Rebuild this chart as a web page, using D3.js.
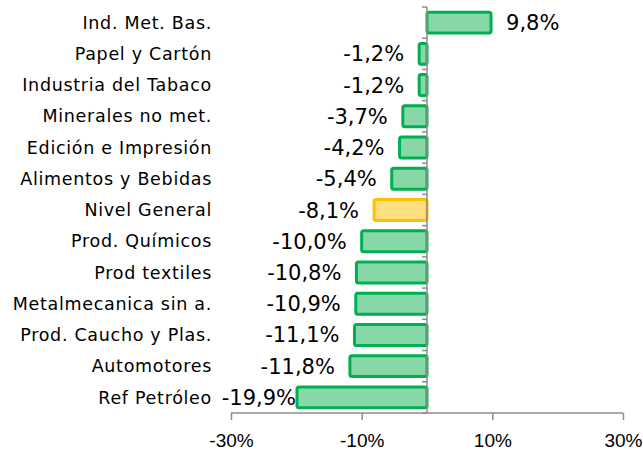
<!DOCTYPE html>
<html>
<head>
<meta charset="utf-8">
<script src="https://cdn.jsdelivr.net/npm/d3@7"></script>
<style>
  body { margin: 0; background: #fff; }
  svg { display: block; }
</style>
</head>
<body>
<div id="chart"></div>
<script>
// categories, top to bottom
const categories = [
    "Ind. Met. Bas.", "Papel y Cartón", "Industria del Tabaco", "Minerales no met.",
    "Edición e Impresión", "Alimentos y Bebidas", "Nivel General", "Prod. Químicos",
    "Prod textiles", "Metalmecanica sin a.", "Prod. Caucho y Plas.", "Automotores", "Ref Petróleo"
];
const values = [9.8, -1.2, -1.2, -3.7, -4.2, -5.4, -8.1, -10.0, -10.8, -10.9, -11.1, -11.8, -19.9];
const highlight = "Nivel General";
const xTicks = [-30, -10, 10, 30];

const w = 643, h = 452;
const margin = {top: 7, right: 20, bottom: 39, left: 231};

const svg = d3.select("#chart").append("svg")
    .attr("width", w)
    .attr("height", h)
    .style("font-family", "'DejaVu Sans', sans-serif");

const x = d3.scaleLinear()
    .domain([-30, 30])
    .range([margin.left, 623]);

const y = d3.scaleBand()
    .domain(categories)
    .range([margin.top, h - margin.bottom])
    .paddingInner(0.33)
    .paddingOuter(0.165);

// x axis
const xAxis = svg.append("g")
    .attr("transform", `translate(0,${h - margin.bottom})`)
    .call(d3.axisBottom(x).tickValues(xTicks).tickFormat(d => d + "%").tickSize(7).tickSizeOuter(0));
xAxis.select(".domain").attr("stroke", "#8c8c8c").attr("stroke-width", 1.5)
    .attr("d", `M${x(-30)},0H${x(30)}`);
xAxis.selectAll(".tick line").attr("stroke", "#8c8c8c").attr("stroke-width", 1.5);
xAxis.selectAll(".tick text")
    .attr("y", 27)
    .attr("dy", "0.36em")
    .style("font-size", "19px")
    .attr("fill", "#000");

// bars
svg.append("g")
    .selectAll("rect")
    .data(categories)
    .join("rect")
    .attr("x", (d, i) => Math.min(x(0), x(values[i])) )
    .attr("y", d => y(d))
    .attr("width", (d, i) => Math.abs(x(values[i]) - x(0)))
    .attr("height", y.bandwidth())
    .attr("rx", 2)
    .attr("fill", d => d === highlight ? "#ffdf80" : "#86d9a6")
    .attr("stroke", d => d === highlight ? "#ffc000" : "#00b050")
    .attr("stroke-width", 3);

// vertical category axis at zero
const yAxis = svg.append("g")
    .attr("transform", `translate(${x(0)},0)`);
yAxis.append("line")
    .attr("y1", margin.top).attr("y2", h - margin.bottom)
    .attr("stroke", "#8c8c8c").attr("stroke-width", 1.5);
const bounds = categories.map(d => y(d) - y.step() * y.paddingInner() / 2).concat([h - margin.bottom]);
yAxis.selectAll(".cat-tick")
    .data(bounds)
    .join("line")
    .attr("class", "cat-tick")
    .attr("x1", -5).attr("x2", 0)
    .attr("y1", d => d).attr("y2", d => d)
    .attr("stroke", "#8c8c8c").attr("stroke-width", 1.5);

// category labels
svg.append("g")
    .selectAll("text")
    .data(categories)
    .join("text")
    .attr("x", 212)
    .attr("y", d => y(d) + y.bandwidth() / 2)
    .attr("dy", "0.35em")
    .attr("text-anchor", "end")
    .style("font-size", "17.5px")
    .style("letter-spacing", "0.7px")
    .text(d => d);

// value labels
const fmt = v => v.toFixed(1).replace(".", ",") + "%";
svg.append("g")
    .selectAll("text")
    .data(categories)
    .join("text")
    .attr("x", (d, i) => values[i] >= 0 ? x(values[i]) + 15 : Math.max(x(values[i]) - 15, 296))
    .attr("y", d => y(d) + y.bandwidth() / 2)
    .attr("dy", "0.36em")
    .attr("text-anchor", (d, i) => values[i] >= 0 ? "start" : "end")
    .style("font-size", "21px")
    .text((d, i) => fmt(values[i]));
</script>
</body>
</html>
